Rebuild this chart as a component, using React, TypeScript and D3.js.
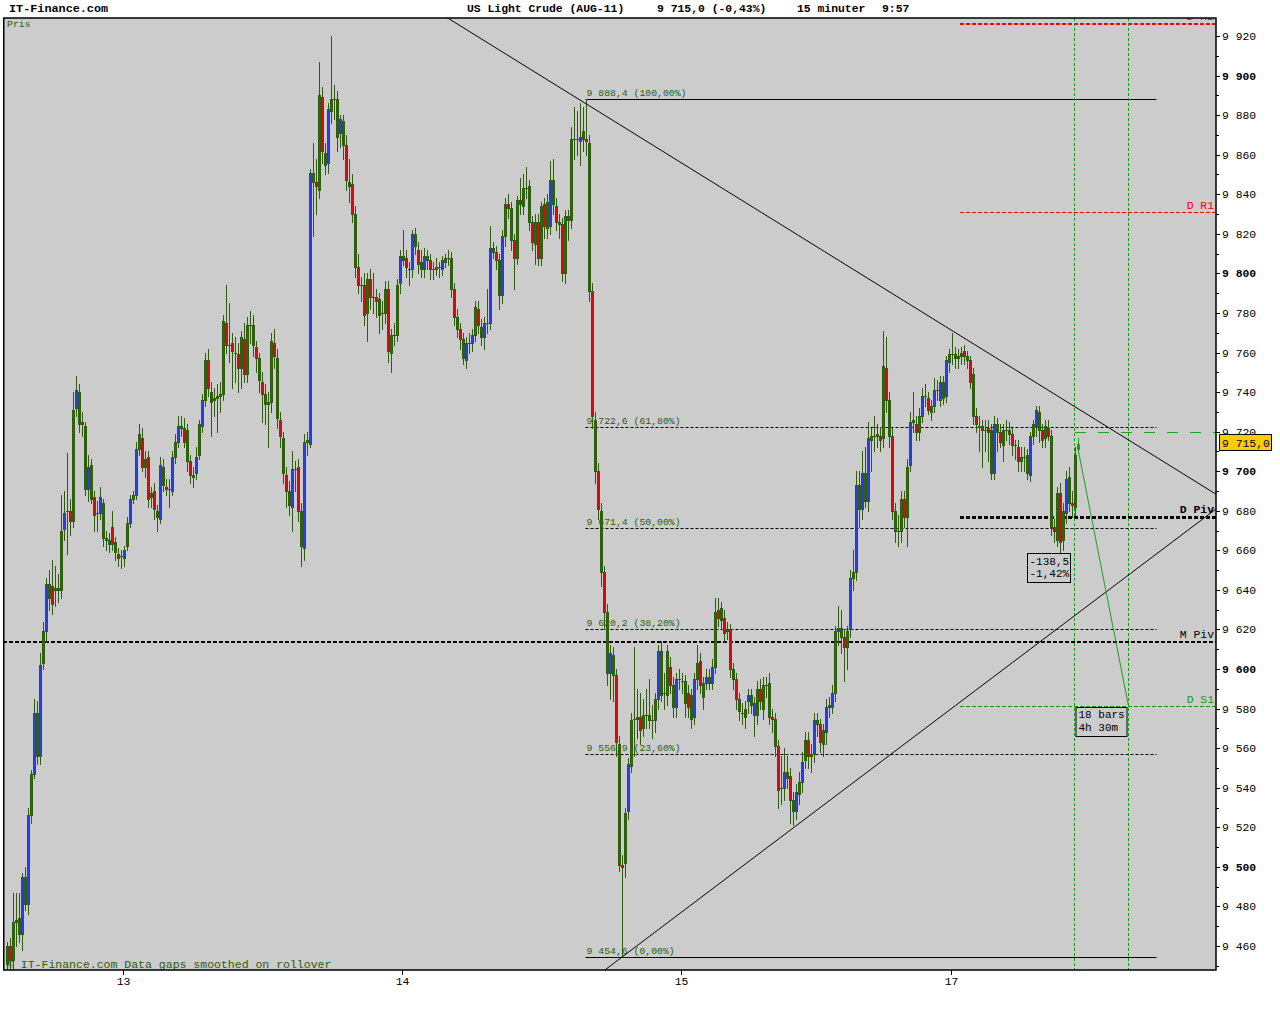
import React from 'react';
import * as d3 from 'd3';

type Bar = [number, number, number, number]; // open, high, low, close

const session12: Bar[] = [
  [9451,9462,9447,9460],[9460,9464,9446,9453],[9453,9487,9448,9472],[9472,9487,9460,9473],
  [9474,9487,9462,9466],[9466,9497,9458,9495],[9495,9500,9478,9481],[9481,9530,9476,9526],
  [9526,9549,9522,9547],[9547,9585,9545,9578],[9578,9584,9552,9556],[9556,9608,9552,9602],
  [9603,9624,9600,9619],[9619,9646,9614,9643],[9643,9650,9630,9636],[9642,9655,9628,9633],
  [9640,9652,9632,9641],[9641,9648,9634,9640],[9640,9688,9636,9670],[9671,9690,9665,9679],
  [9680,9709,9658,9680],[9680,9686,9668,9675],[9675,9740,9672,9731],[9732,9748,9728,9741],
  [9740,9744,9720,9724],[9725,9730,9718,9724],[9723,9725,9688,9691],[9691,9708,9685,9702],
  [9703,9706,9684,9686],[9687,9690,9670,9678],[9679,9685,9670,9679],[9679,9692,9676,9687],
  [9684,9686,9662,9666],[9666,9670,9660,9665],[9665,9669,9659,9663],[9672,9680,9660,9663],
  [9664,9667,9655,9659],[9658,9661,9652,9656],[9657,9660,9651,9657],
];

const session13: Bar[] = [
  [9656,9662,9652,9660],[9662,9677,9660,9674],[9674,9688,9672,9686],[9686,9690,9684,9688],
  [9688,9715,9686,9711],[9711,9724,9708,9719],[9717,9722,9700,9702],[9702,9710,9697,9706],
  [9707,9710,9682,9686],[9687,9692,9682,9689],[9690,9694,9676,9681],[9680,9683,9670,9677],
  [9676,9707,9674,9703],[9702,9706,9690,9693],[9692,9696,9688,9691],[9691,9696,9682,9691],
  [9690,9710,9688,9707],[9707,9719,9704,9715],[9715,9728,9712,9723],[9723,9728,9718,9722],
  [9722,9727,9712,9715],[9721,9724,9700,9705],[9705,9708,9694,9698],[9698,9702,9692,9697],
  [9699,9712,9696,9707],[9708,9726,9706,9724],[9723,9739,9720,9736],[9736,9760,9733,9756],
  [9756,9762,9738,9742],[9740,9745,9718,9735],[9736,9742,9728,9737],[9737,9744,9720,9738],
  [9738,9745,9730,9739],[9739,9779,9736,9776],[9775,9794,9760,9764],[9764,9785,9755,9764],
  [9765,9770,9742,9761],[9760,9768,9745,9760],[9759,9765,9740,9752],[9752,9771,9742,9768],
  [9767,9775,9745,9749],[9749,9778,9745,9774],[9774,9781,9765,9774],[9774,9779,9758,9764],
  [9763,9766,9750,9757],[9757,9760,9740,9746],[9745,9750,9725,9739],[9739,9744,9724,9734],
  [9734,9740,9712,9735],[9735,9770,9730,9766],[9765,9772,9752,9758],[9757,9762,9722,9727],
  [9726,9730,9712,9718],[9717,9720,9694,9699],[9698,9702,9682,9690],[9690,9695,9678,9683],
  [9682,9710,9670,9701],[9701,9705,9690,9701],[9702,9706,9675,9680],[9680,9684,9652,9662],
  [9661,9719,9655,9715],[9715,9720,9708,9716],[9714,9853,9712,9851],[9851,9866,9819,9846],
  [9846,9858,9830,9844],[9842,9907,9838,9890],[9889,9894,9856,9862],[9861,9866,9850,9855],
  [9856,9886,9851,9883],[9882,9920,9876,9888],[9888,9895,9878,9888],[9888,9892,9862,9869],
  [9871,9880,9864,9878],[9877,9880,9858,9865],[9865,9870,9842,9847],[9846,9858,9836,9844],
  [9845,9850,9826,9830],[9830,9834,9798,9803],[9803,9810,9790,9794],[9794,9798,9786,9794],
  [9794,9800,9774,9779],[9780,9800,9766,9797],[9797,9802,9782,9788],[9788,9800,9780,9788],
  [9788,9792,9778,9786],[9787,9790,9770,9779],[9780,9786,9772,9780],[9780,9796,9775,9792],
  [9792,9796,9755,9761],[9760,9772,9750,9769],[9769,9775,9764,9769],[9769,9797,9766,9794],
  [9795,9812,9790,9809],
];

const session14: Bar[] = [
  [9809,9822,9804,9807],[9808,9812,9798,9803],[9802,9806,9794,9802],[9802,9822,9798,9820],
  [9820,9823,9810,9814],[9812,9816,9800,9805],[9806,9812,9798,9802],[9802,9813,9798,9809],
  [9809,9812,9802,9807],[9807,9810,9797,9802],[9802,9806,9797,9802],[9803,9808,9799,9802],
  [9803,9806,9798,9803],[9802,9809,9799,9807],[9806,9810,9803,9808],[9808,9812,9804,9808],
  [9808,9811,9788,9792],[9792,9795,9774,9778],[9778,9782,9768,9772],[9772,9775,9762,9767],
  [9767,9770,9754,9757],[9756,9768,9752,9765],[9765,9770,9760,9765],[9765,9772,9761,9769],
  [9769,9786,9766,9783],[9782,9786,9770,9774],[9773,9777,9764,9768],[9768,9778,9762,9775],
  [9775,9792,9770,9775],[9775,9824,9772,9813],[9813,9816,9808,9811],[9811,9814,9802,9807],
  [9807,9810,9782,9789],[9789,9822,9785,9819],[9819,9838,9814,9835],[9835,9840,9828,9833],
  [9833,9836,9812,9817],[9817,9820,9792,9808],[9808,9839,9805,9837],[9837,9848,9830,9835],
  [9834,9850,9830,9843],[9843,9854,9838,9843],[9844,9847,9822,9826],[9826,9829,9812,9816],
  [9815,9830,9805,9826],[9826,9830,9804,9808],[9808,9836,9804,9834],[9835,9838,9818,9824],
  [9823,9840,9818,9836],[9824,9857,9820,9847],[9847,9858,9830,9835],[9834,9838,9822,9826],
  [9826,9830,9818,9825],[9825,9828,9796,9800],[9800,9832,9795,9829],[9829,9832,9817,9827],
  [9827,9874,9823,9868],[9868,9884,9858,9868],[9868,9882,9860,9868],[9867,9886,9855,9869],
  [9872,9884,9862,9868],[9868,9888.4,9860,9867],[9866,9870,9786,9791],[9791,9795,9722,9728],
  [9726,9730,9694,9700],[9700,9704,9676,9681],[9680,9684,9642,9649],[9649,9652,9620,9629],
  [9629,9633,9592,9598],[9598,9612,9585,9608],[9607,9611,9584,9597],[9597,9600,9556,9563],
  [9562,9566,9498,9501],[9501,9506,9454.6,9500],[9502,9530,9495,9527],[9528,9555,9524,9552],
  [9551,9578,9548,9574],[9575,9611,9556,9575],[9575,9590,9565,9576],[9576,9588,9562,9569],
  [9570,9585,9566,9577],[9577,9590,9570,9577],[9577,9595,9570,9574],[9574,9582,9565,9574],
  [9574,9588,9568,9585],[9585,9612,9580,9609],[9609,9614,9584,9587],[9588,9598,9580,9588],
  [9587,9612,9582,9609],[9601,9606,9588,9592],[9592,9596,9576,9581],[9581,9598,9576,9595],
  [9595,9600,9590,9595],
];

const session15: Bar[] = [
  [9594,9598,9588,9594],[9594,9597,9576,9583],[9588,9592,9576,9581],[9587,9590,9570,9575],
  [9576,9598,9572,9595],[9595,9612,9590,9603],[9604,9608,9588,9592],[9586,9596,9580,9593],
  [9593,9600,9590,9596],[9596,9600,9590,9593],[9593,9605,9590,9601],[9601,9636,9598,9629],
  [9630,9636,9622,9626],[9631,9634,9620,9625],[9626,9630,9614,9618],[9619,9624,9615,9620],
  [9620,9623,9596,9600],[9600,9603,9590,9595],[9595,9598,9580,9585],[9585,9588,9574,9579],
  [9578,9583,9572,9578],[9580,9584,9570,9576],[9584,9590,9578,9587],[9587,9590,9578,9582],
  [9577,9586,9566,9583],[9577,9594,9572,9590],[9590,9595,9580,9584],[9580,9596,9575,9592],
  [9592,9596,9586,9592],[9593,9598,9572,9576],[9576,9580,9568,9575],[9575,9578,9556,9561],
  [9561,9564,9530,9539],[9540,9556,9532,9540],[9540,9560,9534,9548],[9548,9556,9540,9545],
  [9546,9550,9522,9534],[9534,9538,9521,9528],[9528,9542,9524,9538],[9537,9548,9532,9543],
  [9543,9558,9538,9553],[9554,9568,9550,9564],[9564,9568,9550,9556],[9556,9562,9548,9557],
  [9557,9578,9553,9574],[9574,9578,9566,9572],[9572,9575,9558,9563],[9562,9572,9556,9569],
  [9568,9585,9562,9581],[9581,9586,9576,9582],[9581,9592,9578,9588],[9588,9622,9584,9619],
  [9619,9632,9612,9621],[9621,9630,9608,9616],[9616,9620,9594,9611],[9611,9622,9600,9619],
  [9620,9650,9616,9646],[9646,9660,9640,9649],[9649,9700,9645,9693],[9693,9700,9672,9681],
  [9681,9710,9676,9699],[9699,9712,9682,9685],[9685,9725,9680,9717],[9716,9722,9700,9718],
  [9718,9728,9710,9718],[9719,9724,9712,9718],[9718,9722,9710,9716],[9717,9771,9712,9753],
  [9752,9768,9730,9736],[9736,9740,9712,9718],[9718,9722,9676,9680],[9680,9684,9664,9670],
  [9670,9678,9662,9670],[9670,9690,9664,9686],[9686,9690,9672,9677],[9677,9706,9662,9702],
  [9703,9730,9700,9725],[9725,9740,9720,9726],[9724,9728,9716,9720],[9720,9732,9716,9728],
  [9728,9742,9725,9738],[9738,9744,9733,9738],[9737,9740,9729,9731],[9730,9736,9726,9733],
  [9733,9747,9730,9741],[9741,9746,9736,9741],[9736,9748,9733,9745],[9745,9748,9734,9737],
  [9738,9758,9735,9756],[9755,9762,9750,9759],
];

const session17: Bar[] = [
  [9759,9770,9754,9759],[9759,9763,9752,9757],[9757,9762,9752,9758],[9758,9763,9754,9760],
  [9761,9764,9754,9758],[9758,9761,9752,9756],[9756,9758,9742,9745],[9749,9752,9724,9728],
  [9728,9732,9720,9724],[9723,9728,9710,9723],[9723,9726,9702,9721],[9721,9726,9710,9721],
  [9722,9726,9705,9720],[9721,9724,9696,9699],[9699,9728,9696,9724],[9724,9727,9710,9720],
  [9720,9724,9712,9715],[9713,9724,9705,9721],[9721,9726,9716,9721],[9721,9725,9714,9719],
  [9719,9722,9708,9713],
  [9713,9716,9706,9713],[9712,9716,9700,9705],[9705,9712,9700,9707],[9707,9712,9700,9707],
  [9708,9711,9696,9699],[9698,9720,9695,9718],[9718,9726,9714,9724],[9723,9733,9718,9731],
  [9730,9733,9715,9721],[9721,9724,9712,9716],[9717,9726,9712,9723],[9722,9726,9716,9718],
  [9718,9721,9668,9672],[9672,9676,9664,9670],[9665,9692,9662,9689],[9689,9694,9655,9664],
  [9665,9684,9660,9680],[9679,9700,9674,9696],[9697,9702,9680,9684],[9684,9690,9677,9683],
  [9682,9712,9678,9708],[9711,9717,9709,9714],
];

const sessionDays = ['12', '13', '14', '15', '17'];
const sessions = [session12, session13, session14, session15, session17];

const fibLevels = [
  { label: '9 888,4 (100,00%)', value: 9888.4, solid: true },
  { label: '9 722,6 (61,80%)', value: 9722.6, solid: false },
  { label: '9 671,4 (50,00%)', value: 9671.4, solid: false },
  { label: '9 620,2 (38,20%)', value: 9620.2, solid: false },
  { label: '9 556,9 (23,60%)', value: 9556.9, solid: false },
  { label: '9 454,6 (0,00%)', value: 9454.6, solid: true },
];
const fibSpan = [193, 383];

const pivotNames = ['D R2', 'D R1', 'D Piv', 'M Piv', 'D S1'];
const pivotValues = [9926.2, 9831.1, 9676.9, 9613.7, 9581.3];

const resistanceLine: [number, number][] = [[193, 9885.6], [316, 9770.0]];
const supportLine: [number, number][] = [[205, 9454.6], [262, 9519.8]];

const projectionBars = [356, 374];
const projectionStart = 9710;
const projectionTarget = 9581.3;
const projectionHigh = 9720;
const projectionText = ['18 bars', '4h 30m'];
const measureText = ['-138,5', '-1,42%'];
const measureAnchor: [number, number] = [340, 9658.7];

const lastPrice = 9715.0;
const lastPriceText = '9 715,0';
const siteName = 'IT-Finance.com';
const titleParts = ['US Light Crude (AUG-11)', '9 715,0 (-0,43%)', '15 minuter', '9:57'];
const paneLabel = 'Pris';
const footerText = '\u00a9 IT-Finance.com Data gaps smoothed on rollover';

const MONO = "'Liberation Mono', 'DejaVu Sans Mono', monospace";
const COL = {
  bg: '#cccccc',
  up: '#2a40e8',
  down: '#d01010',
  wick: '#2d5d0d',
  darkGreen: '#2d5d0d',
  green: '#119911',
  projGreen: '#1f9f1f',
  tag: '#ffcc00',
};

const pivotStyle: Record<string, { color: string; width: number; full: boolean; bold: boolean }> = {
  'D R2': { color: '#ff0000', width: 2, full: false, bold: false },
  'D R1': { color: '#ff0000', width: 1, full: false, bold: false },
  'D Piv': { color: '#000000', width: 3, full: false, bold: true },
  'M Piv': { color: '#000000', width: 2, full: true, bold: false },
  'D S1': { color: '#119911', width: 1, full: false, bold: false },
};

function fmtPrice(v: number) {
  const th = Math.floor(v / 1000);
  const rest = String(Math.round(v % 1000)).padStart(3, '0');
  return `${th} ${rest}`;
}

export default function App() {
  const W = 1280;
  const H = 1024;
  const plot = { left: 3, top: 18, right: 1216, bottom: 970 };

  const bars: Bar[] = ([] as Bar[]).concat(...sessions);
  const n = bars.length;
  const sessionStarts: number[] = [];
  let acc = 0;
  sessions.forEach((s) => {
    sessionStarts.push(acc);
    acc += s.length;
  });

  const x = d3.scaleLinear().domain([0, n - 1]).range([7.5, 7.5 + 3 * (n - 1)]);
  const y = d3.scaleLinear().domain([9460, 9920]).range([946, 36]);
  const py = (v: number) => Math.round(y(v));

  const minorTicks = d3.range(9450, 9931, 10).filter((v) => y(v) > plot.top && y(v) < plot.bottom);
  const labelTicks = d3.range(9460, 9921, 20);

  const trend = (pts: [number, number][]) => {
    const [a, b] = pts;
    const slope = (b[1] - a[1]) / (b[0] - a[0]);
    const i0 = -60;
    const i1 = 460;
    return d3.line()([
      [x(i0), y(a[1] + slope * (i0 - a[0]))],
      [x(i1), y(a[1] + slope * (i1 - a[0]))],
    ]) as string;
  };

  const pivotStartX = x(317.5);
  const lastIdx = n - 1;

  return (
    <svg
      width={W}
      height={H}
      style={{ position: 'absolute', left: 0, top: 0, background: '#ffffff' }}
      fontFamily={MONO}
    >
      <defs>
        <clipPath id="plotClip">
          <rect x={plot.left} y={plot.top} width={plot.right - plot.left} height={plot.bottom - plot.top} />
        </clipPath>
      </defs>

      {/* header */}
      <text x={9} y={12} fontSize={11.8} fontWeight="bold" fill="#000">{siteName}</text>
      {[467, 657, 797, 882].map((tx, k) => (
        <text key={k} x={tx} y={12} fontSize={11.4} fontWeight="bold" fill="#000">{titleParts[k]}</text>
      ))}

      {/* plot background */}
      <rect x={plot.left} y={plot.top} width={plot.right - plot.left} height={plot.bottom - plot.top} fill={COL.bg} />

      <g clipPath="url(#plotClip)">
        <text x={7} y={27} fontSize={9.8} fill={COL.darkGreen}>{paneLabel}</text>

        {/* pivot lines */}
        {pivotNames.map((name, k) => {
          const st = pivotStyle[name];
          const yy = py(pivotValues[k]) + (st.width % 2 === 1 ? 0.5 : 0);
          return (
            <g key={name}>
              <line
                x1={st.full ? plot.left : pivotStartX}
                x2={plot.right}
                y1={yy}
                y2={yy}
                stroke={st.color}
                strokeWidth={st.width}
                strokeDasharray="4,2"
              />
              <text
                x={1214}
                y={yy - 3 - st.width / 2}
                fontSize={11.4}
                textAnchor="end"
                fill={st.color}
                fontWeight={st.bold ? 'bold' : 'normal'}
              >
                {name}
              </text>
            </g>
          );
        })}

        {/* fibonacci retracement */}
        {fibLevels.map((f) => {
          const yy = py(f.value) + 0.5;
          return (
            <g key={f.label}>
              <line
                x1={x(fibSpan[0]) - 1}
                x2={x(fibSpan[1])}
                y1={yy}
                y2={yy}
                stroke="#000"
                strokeWidth={1}
                strokeDasharray={f.solid ? undefined : '3,2'}
              />
              <text x={x(fibSpan[0])} y={yy - 3.5} fontSize={9.8} fill={COL.darkGreen}>{f.label}</text>
            </g>
          );
        })}

        {/* projection verticals */}
        {projectionBars.map((b) => (
          <line
            key={b}
            x1={x(b) - 1}
            x2={x(b) - 1}
            y1={plot.top}
            y2={plot.bottom}
            stroke={COL.green}
            strokeWidth={1}
            strokeDasharray="3,2"
          />
        ))}

        {/* candles */}
        {bars.map((b, i) => {
          const [o, h, l, c] = b;
          const cx = x(i);
          const top = py(Math.max(o, c));
          const bot = py(Math.min(o, c));
          const hy = py(h);
          const ly = py(l);
          const bh = Math.max(1, bot - top + 1);
          if (i === lastIdx) {
            return (
              <g key={i}>
                <rect x={cx - 0.5} y={hy} width={1} height={ly - hy + 1} fill={COL.projGreen} />
                <rect x={cx - 1} y={top + 0.5} width={2} height={Math.max(1, bh - 1)} fill="none" stroke={COL.projGreen} strokeWidth={1} />
              </g>
            );
          }
          return (
            <g key={i}>
              <rect x={cx - 0.5} y={Math.min(hy, top)} width={1} height={Math.max(ly, bot) - Math.min(hy, top) + 1} fill={COL.wick} />
              <rect x={cx - 1.5} y={top} width={3} height={bh} fill={COL.wick} />
              {bh > 2 && (
                <rect x={cx - 0.5} y={top + 1} width={1} height={bh - 2} fill={c >= o ? COL.up : COL.down} />
              )}
            </g>
          );
        })}

        {/* trend lines */}
        <path d={trend(resistanceLine)} stroke="#000" strokeWidth={1} fill="none" />
        <path d={trend(supportLine)} stroke="#000" strokeWidth={1} fill="none" />

        {/* projection tool */}
        <line
          x1={x(projectionBars[0]) - 0.5}
          x2={plot.right}
          y1={py(projectionHigh) + 0.5}
          y2={py(projectionHigh) + 0.5}
          stroke={COL.projGreen}
          strokeWidth={1}
          strokeDasharray="11,12"
        />
        <line
          x1={x(lastIdx)}
          y1={y(projectionStart)}
          x2={x(projectionBars[1]) - 1}
          y2={y(projectionTarget)}
          stroke={COL.projGreen}
          strokeWidth={1}
        />
        <g>
          <rect
            x={x(projectionBars[0]) + 0.5}
            y={py(9580.8) + 0.5}
            width={51}
            height={29}
            fill={COL.bg}
            stroke="#000"
            strokeWidth={1}
          />
          {projectionText.map((t, k) => (
            <text key={t} x={x(projectionBars[0]) + 3} y={py(9580.8) + 10.5 + k * 13} fontSize={11} fill="#000">{t}</text>
          ))}
        </g>

        {/* measure box */}
        <g>
          <rect
            x={x(measureAnchor[0])}
            y={py(measureAnchor[1]) + 0.5}
            width={43}
            height={29}
            fill={COL.bg}
            stroke="#000"
            strokeWidth={1}
          />
          {measureText.map((t, k) => (
            <text key={t} x={x(measureAnchor[0]) + 2} y={py(measureAnchor[1]) + 12 + k * 11.7} fontSize={11} fill="#000">{t}</text>
          ))}
        </g>

        <text x={7} y={968} fontSize={11.5} fill={COL.darkGreen}>{footerText}</text>
      </g>

      {/* plot frame */}
      <rect
        x={plot.left + 0.75}
        y={plot.top}
        width={plot.right - plot.left - 0.75}
        height={plot.bottom - plot.top}
        fill="none"
        stroke="#000"
        strokeWidth={1.5}
      />

      {/* right axis */}
      {minorTicks.map((v) => {
        const major = v % 20 === 0;
        const yy = py(v) + 0.5;
        return <line key={v} x1={plot.right} x2={plot.right + (major ? 4 : 3)} y1={yy} y2={yy} stroke="#000" strokeWidth={1} />;
      })}
      {labelTicks.map((v) => (
        <text
          key={v}
          x={1222}
          y={py(v) + 4}
          fontSize={11.4}
          fill="#000"
          fontWeight={v % 100 === 0 ? 'bold' : 'normal'}
        >
          {fmtPrice(v)}
        </text>
      ))}

      {/* last price tag */}
      <rect x={1219.5} y={py(lastPrice) - 7.5} width={52} height={16} fill={COL.tag} stroke="#000" strokeWidth={1} />
      <text x={1222} y={py(lastPrice) + 5} fontSize={11.4} fill="#000">{lastPriceText}</text>

      {/* bottom axis */}
      {sessionStarts.map((s, k) => {
        if (k === 0) return null;
        const tx = Math.round(x(s) - 1.5) + 0.5;
        return (
          <g key={k}>
            <line x1={tx} x2={tx} y1={plot.bottom} y2={plot.bottom + 5} stroke="#000" strokeWidth={1} />
            <text x={tx} y={985} fontSize={11.4} textAnchor="middle" fill="#000">{sessionDays[k]}</text>
          </g>
        );
      })}
    </svg>
  );
}
